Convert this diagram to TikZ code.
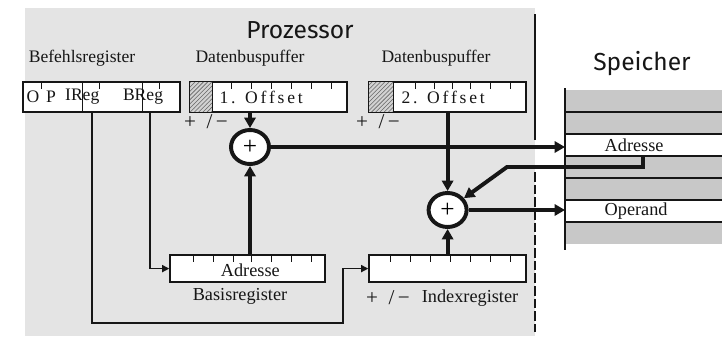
\documentclass[tikz,border=0pt]{standalone}
\usepackage{fontspec}
\setmainfont{Liberation Serif}
\newfontfamily\titlefont{Fira Sans}
\newfontfamily\spacedfont[LetterSpace=16]{Liberation Serif}
\usetikzlibrary{arrows.meta, positioning, patterns, calc, shapes.geometric}
\definecolor{cpaper}{HTML}{E4E4E4}
\definecolor{cmem}{HTML}{C8C8C8}
\definecolor{cink}{HTML}{161616}
\tikzset{
  reg/.style={draw=cink, fill=white, minimum width=3.925cm, minimum height=#1, inner sep=0pt, line width=1.1pt},
  reg/.default=0.75cm,
  tick/.style={draw=cink, line width=0.8pt},
  lbl/.style={text=cink, inner sep=1pt, font=\fontsize{12.5}{14}\selectfont},
  sign/.style={text=cink, inner sep=1pt, font=\fontsize{15}{15}\selectfont},
  title/.style={text=cink, font=\titlefont\fontsize{17.5}{20}\selectfont},
  adder/.style={ellipse, draw=cink, line width=2.8pt, fill=white, minimum width=0.95cm, minimum height=0.85cm, inner sep=0pt, font=\fontsize{18}{18}\selectfont},
  bus/.style={draw=cink, line width=2.8pt, -{Triangle[length=2.6mm, width=2.8mm]}},
  wire/.style={draw=cink, line width=1pt, -{Triangle[length=1.8mm, width=1.8mm]}},
  memrow/.style={fill=#1, minimum width=3.925cm, minimum height=0.55cm, inner sep=0pt, anchor=north west},
}
\begin{document}
\begin{tikzpicture}
  \useasboundingbox (0,0) rectangle (18.05,-8.4);
  % \regticks{register}{offsets from its west side}
  \newcommand{\regticks}[2]{%
    \foreach \t in {#2} \draw[tick] ($(#1.north west)+(\t,0)$) -- ++(0,-0.2);}
  % processor area
  \fill[cpaper] (0.62,-0.2) rectangle (13.375,-8.4);
  \draw[cink, line width=1pt] (13.375,-0.35) -- (13.375,-3.5);
  \draw[cink, line width=1pt, dash pattern=on 7pt off 2pt] (13.375,-4.3) -- (13.375,-8.3);
  \node[title] (proz) at (7.5,-0.75) {Prozessor};
  \node[title] (speicher) at (16.05,-1.58) {Speicher};

  % registers at the top
  \node[lbl] (befehlLbl) at (2.05,-1.45) {Befehlsregister};
  \node[lbl] (puf1Lbl) at (6.25,-1.45) {Datenbuspuffer};
  \node[lbl] (puf2Lbl) at (10.9,-1.45) {Datenbuspuffer};
  \node[reg] (befehl) at (2.5375,-2.425) {};
  \node[reg] (puf1) at (6.7125,-2.425) {};
  \node[reg] (puf2) at (11.1875,-2.425) {};
  \foreach \x in {1.5,3.0} \draw[tick] ($(befehl.north west)+(\x,0)$) -- ($(befehl.south west)+(\x,0)$);
  \regticks{befehl}{0.475,1.925,3.425}
  \node[lbl] (opO) at ($(befehl.west)+(0.27,0)$) {O};
  \node[lbl] (opP) at ($(befehl.west)+(0.72,0)$) {P};
  \node[lbl] (ireg) at ($(befehl.west)+(1.5,0)$) {IReg};
  \node[lbl] (breg) at ($(befehl.west)+(3.02,0)$) {BReg};
  \coordinate (iw) at (2.3,-2.8);
  \coordinate (bw) at (3.75,-2.8);
  \foreach \r/\w in {puf1/0.575, puf2/0.625} {
    \fill[gray!35] (\r.north west) rectangle ($(\r.south west)+(\w,0)$);
    \draw[tick, pattern=north east lines, pattern color=gray!80!black] (\r.north west) rectangle ($(\r.south west)+(\w,0)$);}
  \regticks{puf1}{1.05,1.55,2.05,2.55,3.05,3.55}
  \regticks{puf2}{1.175,1.65,2.1,2.55,3.05,3.55}
  \node[lbl, font=\spacedfont\fontsize{12.5}{14}\selectfont] (off1) at ($(puf1.west)+(1.8,0)$) {1. Offset};
  \node[lbl, font=\spacedfont\fontsize{12.5}{14}\selectfont] (off2) at ($(puf2.west)+(1.875,0)$) {2. Offset};
  \node[sign] (sign1) at (5.15,-3.05) {+\enspace/\,−};
  \node[sign] (sign2) at (9.45,-3.05) {+\enspace/\,−};

  % adders
  \node[adder] (adder1) at (6.25,-3.675) {+};
  \node[adder] (adder2) at (11.19,-5.25) {+};

  % registers at the bottom
  \node[reg=0.68cm, minimum width=3.875cm] (basis) at (6.1875,-6.715) {};
  \node[reg=0.68cm] (index) at (11.1875,-6.715) {};
  \regticks{basis}{0.6,1.1,1.6,2.05,2.55,3.05,3.55}
  \regticks{index}{0.55,1.05,1.55,2.05,2.55,3.05,3.55}
  \node[lbl, font=\fontsize{13}{14}\selectfont] (adrB) at ($(basis.center)+(0.07,-0.05)$) {Adresse};
  \node[lbl, font=\fontsize{13}{14}\selectfont] (basisLbl) at (6.0,-7.4) {Basisregister};
  \node[sign] (sign3) at (9.7,-7.45) {+\enspace/\,−};
  \node[lbl, font=\fontsize{13}{14}\selectfont] (indexLbl) at (11.75,-7.45) {Indexregister};

  % memory
  \foreach \f [count=\i] in {cmem,cmem,white,cmem,cmem,white,cmem}
    \node[memrow=\f] (m\i) at (14.125,-2.25-0.55*\i+0.55) {};
  \foreach \i in {2,...,7} \draw[cink, line width=1.3pt] (m\i.north west) -- (m\i.north east);
  \draw[cink, line width=1.2pt] (14.125,-2.2) -- (14.125,-6.25);
  \node[lbl, anchor=west, font=\fontsize{13}{14}\selectfont] (madr) at ($(m3.west)+(0.95,0)$) {Adresse};
  \node[lbl, anchor=west, font=\fontsize{13}{14}\selectfont] (mop) at ($(m6.west)+(0.95,0)$) {Operand};

  % connections
  \draw[bus] (adder1 |- puf1.south) -- (adder1.north);
  \draw[bus] (adder1 |- basis.north) -- (adder1.south);
  \draw[bus] (adder2 |- puf2.south) -- (adder2.north);
  \draw[bus] (adder2 |- index.north) -- (adder2.south);
  \draw[bus] (adder1.east) -- (adder1.east -| m3.west);
  \draw[bus] (adder2.east) -- (adder2.east -| m6.west);
  \coordinate (fb) at ($(m3.south west)+(1.95,0)$);
  \coordinate (fbturn) at (12.675,-4.175);
  \draw[bus] (fb) |- (fbturn) -- (adder2);
  \draw[wire] (bw) |- (basis.west);
  \coordinate (iturn) at (8.575,-8.075);
  \draw[wire] (iw) |- (iturn) |- (index.west);
\end{tikzpicture}
\end{document}
